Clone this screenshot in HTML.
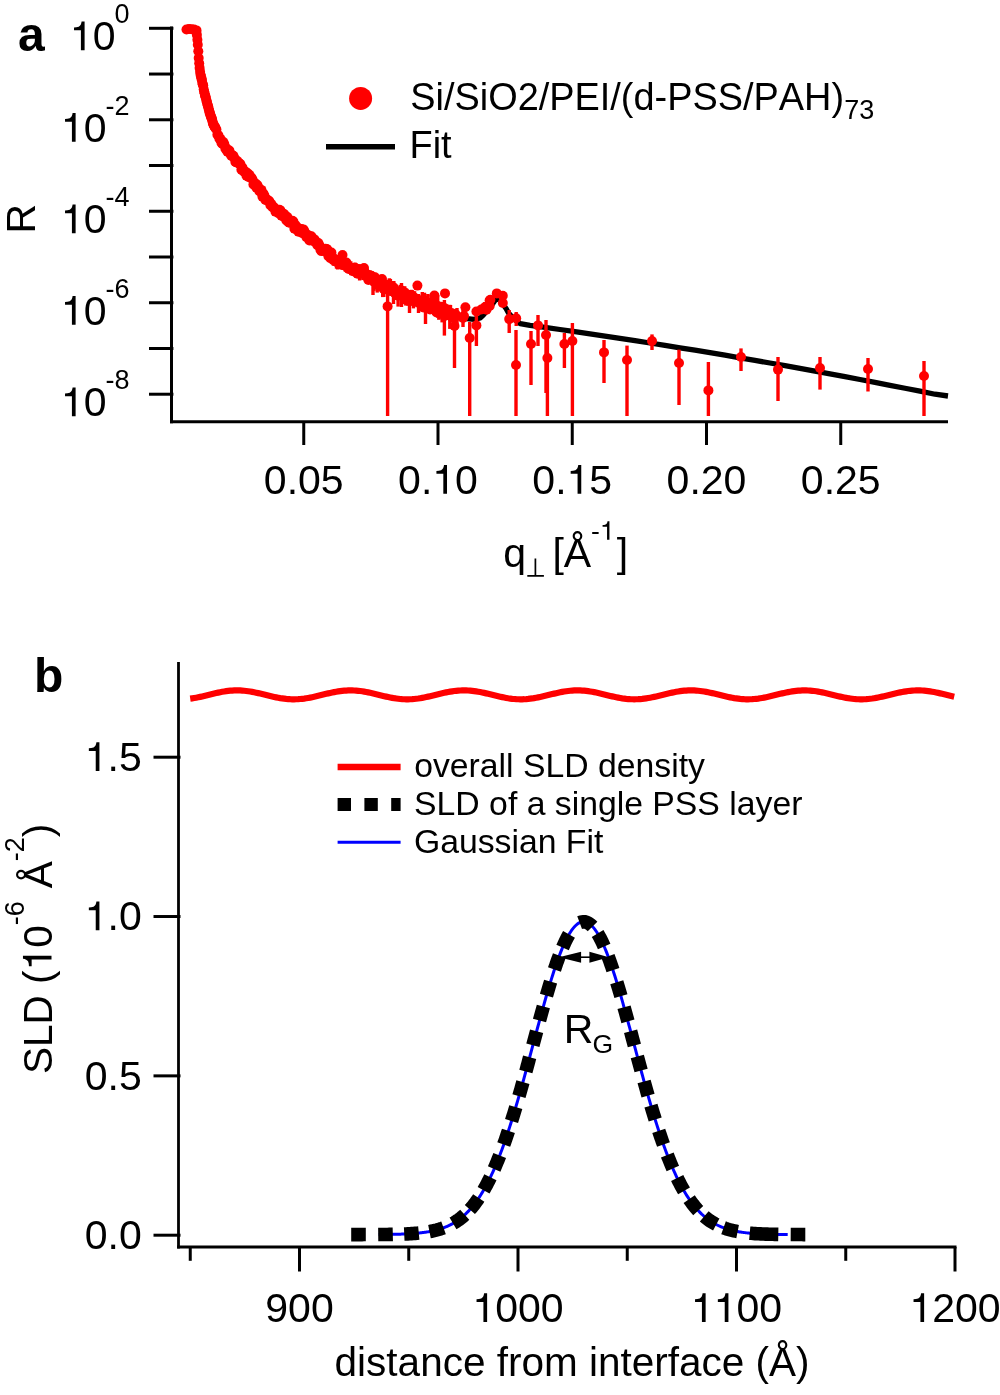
<!DOCTYPE html>
<html><head><meta charset="utf-8"><style>
html,body{margin:0;padding:0;background:#fff;}
svg{display:block;will-change:transform;}
text{font-family:"Liberation Sans",sans-serif;fill:#000;font-kerning:none;}
</style></head><body>
<svg width="1000" height="1395" viewBox="0 0 1000 1395">
<rect width="1000" height="1395" fill="#fff"/>
<path d="M186.00,29.50 L192.00,29.20 L196.50,30.50 L197.50,40.00 L198.00,47.00 L198.50,54.00 L199.00,62.00 L200.00,71.00 L201.00,77.00 L203.00,85.00 L205.00,95.00 L207.50,105.00 L210.50,115.00 L213.50,124.00 L217.50,134.00 L222.00,142.00 L226.00,148.00 L230.00,153.00 L235.00,159.50 L240.00,166.00 L245.00,172.50 L250.00,178.00 L255.00,184.00 L260.00,190.00 L268.00,202.00 L274.00,208.00 L280.00,213.00 L286.00,218.50 L292.00,223.50 L298.00,227.00 L305.00,230.00 L314.00,238.50 L322.00,246.00 L330.00,253.00 L337.00,258.50 L346.00,264.40 L362.00,273.50 L383.50,287.00 L398.00,294.50 L411.00,301.00 L424.00,306.00 L436.00,310.50 L452.00,315.00 L467.00,318.60 L474.00,319.30 L480.30,317.90 L483.50,314.80 L490.00,307.50 L495.00,300.50 L497.00,298.80 L499.50,299.80 L502.50,303.50 L506.20,308.80 L508.50,313.00 L514.00,319.00 L520.20,323.60 L530.00,325.40 L545.00,327.38 L560.00,329.50 L575.00,331.66 L590.00,333.86 L605.00,336.09 L620.00,338.36 L635.00,340.66 L650.00,343.00 L665.00,345.37 L680.00,347.78 L695.00,350.23 L710.00,352.71 L725.00,355.23 L740.00,357.78 L755.00,360.37 L770.00,363.00 L785.00,365.66 L800.00,368.35 L815.00,371.09 L830.00,373.86 L845.00,376.66 L860.00,379.50 L875.00,382.38 L890.00,385.29 L905.00,388.24 L920.00,391.22 L935.00,394.24 L948.00,396.00" fill="none" stroke="#000" stroke-width="5.3" stroke-linejoin="round"/>
<g stroke="#ff0000" stroke-width="3.4"><line x1="332.4" y1="251.7" x2="332.4" y2="262.7"/><line x1="333.4" y1="255.4" x2="333.4" y2="265.8"/><line x1="336.5" y1="256.5" x2="336.5" y2="268.7"/><line x1="337.6" y1="256.3" x2="337.6" y2="269.5"/><line x1="340.9" y1="256.8" x2="340.9" y2="269.1"/><line x1="344.2" y1="257.6" x2="344.2" y2="269.8"/><line x1="345.3" y1="260.5" x2="345.3" y2="271.7"/><line x1="348.6" y1="266.1" x2="348.6" y2="271.8"/><line x1="349.7" y1="264.1" x2="349.7" y2="272.2"/><line x1="350.8" y1="261.3" x2="350.8" y2="275.2"/><line x1="351.9" y1="264.0" x2="351.9" y2="274.6"/><line x1="355.2" y1="262.7" x2="355.2" y2="274.2"/><line x1="357.4" y1="270.1" x2="357.4" y2="277.8"/><line x1="358.5" y1="264.4" x2="358.5" y2="274.9"/><line x1="359.6" y1="264.6" x2="359.6" y2="280.5"/><line x1="360.7" y1="268.6" x2="360.7" y2="275.7"/><line x1="362.9" y1="267.0" x2="362.9" y2="280.1"/><line x1="364.0" y1="268.1" x2="364.0" y2="275.1"/><line x1="365.1" y1="269.3" x2="365.1" y2="276.4"/><line x1="369.5" y1="270.9" x2="369.5" y2="278.5"/><line x1="371.7" y1="271.1" x2="371.7" y2="281.8"/><line x1="373.9" y1="274.5" x2="373.9" y2="290.9"/><line x1="376.1" y1="277.2" x2="376.1" y2="289.2"/><line x1="377.2" y1="278.6" x2="377.2" y2="292.6"/><line x1="382.7" y1="278.4" x2="382.7" y2="297.1"/><line x1="383.8" y1="281.6" x2="383.8" y2="297.0"/><line x1="386.0" y1="279.9" x2="386.0" y2="292.2"/><line x1="387.1" y1="285.9" x2="387.1" y2="293.9"/><line x1="389.3" y1="278.3" x2="389.3" y2="293.6"/><line x1="390.4" y1="278.9" x2="390.4" y2="295.7"/><line x1="393.7" y1="281.0" x2="393.7" y2="294.1"/><line x1="397.0" y1="286.8" x2="397.0" y2="299.7"/><line x1="398.1" y1="287.2" x2="398.1" y2="306.6"/><line x1="400.3" y1="284.8" x2="400.3" y2="298.9"/><line x1="402.5" y1="286.4" x2="402.5" y2="304.2"/><line x1="404.7" y1="286.2" x2="404.7" y2="300.3"/><line x1="405.8" y1="292.8" x2="405.8" y2="305.6"/><line x1="408.0" y1="294.5" x2="408.0" y2="305.8"/><line x1="411.3" y1="289.8" x2="411.3" y2="301.2"/><line x1="412.4" y1="290.2" x2="412.4" y2="305.0"/><line x1="413.5" y1="294.4" x2="413.5" y2="308.4"/><line x1="414.6" y1="291.2" x2="414.6" y2="304.7"/><line x1="415.7" y1="295.0" x2="415.7" y2="304.7"/><line x1="422.3" y1="292.0" x2="422.3" y2="311.7"/><line x1="424.5" y1="292.7" x2="424.5" y2="310.2"/><line x1="427.8" y1="294.0" x2="427.8" y2="310.4"/><line x1="431.1" y1="294.6" x2="431.1" y2="313.9"/><line x1="432.2" y1="303.8" x2="432.2" y2="312.9"/><line x1="435.5" y1="300.0" x2="435.5" y2="312.6"/><line x1="437.7" y1="295.3" x2="437.7" y2="317.7"/><line x1="438.8" y1="304.1" x2="438.8" y2="319.8"/><line x1="442.1" y1="305.9" x2="442.1" y2="322.4"/><line x1="443.2" y1="305.0" x2="443.2" y2="316.6"/><line x1="449.8" y1="304.8" x2="449.8" y2="328.9"/><line x1="373.0" y1="272.0" x2="373.0" y2="295.0"/><line x1="393.5" y1="281.0" x2="393.5" y2="304.0"/><line x1="401.5" y1="283.0" x2="401.5" y2="307.0"/><line x1="409.5" y1="290.0" x2="409.5" y2="313.0"/><line x1="418.5" y1="294.0" x2="418.5" y2="313.0"/><line x1="425.5" y1="296.0" x2="425.5" y2="324.0"/><line x1="434.0" y1="300.0" x2="434.0" y2="315.0"/><line x1="450.5" y1="305.0" x2="450.5" y2="322.0"/><line x1="457.0" y1="308.0" x2="457.0" y2="325.0"/><line x1="463.0" y1="310.0" x2="463.0" y2="327.0"/><line x1="387.6" y1="292.0" x2="387.6" y2="416.0"/><line x1="444.4" y1="300.0" x2="444.4" y2="335.6"/><line x1="454.5" y1="310.0" x2="454.5" y2="368.0"/><line x1="469.7" y1="322.0" x2="469.7" y2="416.0"/><line x1="476.4" y1="310.0" x2="476.4" y2="346.0"/><line x1="484.8" y1="302.0" x2="484.8" y2="312.0"/><line x1="509.2" y1="310.0" x2="509.2" y2="333.0"/><line x1="516.2" y1="312.0" x2="516.2" y2="326.0"/><line x1="516.0" y1="330.0" x2="516.0" y2="416.0"/><line x1="531.0" y1="331.0" x2="531.0" y2="385.0"/><line x1="538.0" y1="315.0" x2="538.0" y2="346.0"/><line x1="546.0" y1="320.0" x2="546.0" y2="393.0"/><line x1="547.4" y1="335.0" x2="547.4" y2="416.0"/><line x1="564.4" y1="333.0" x2="564.4" y2="368.0"/><line x1="572.4" y1="323.0" x2="572.4" y2="416.0"/><line x1="604.0" y1="340.0" x2="604.0" y2="383.0"/><line x1="627.0" y1="345.6" x2="627.0" y2="416.0"/><line x1="652.0" y1="334.4" x2="652.0" y2="350.0"/><line x1="679.0" y1="349.6" x2="679.0" y2="405.0"/><line x1="708.4" y1="362.0" x2="708.4" y2="416.0"/><line x1="741.0" y1="348.4" x2="741.0" y2="371.0"/><line x1="778.0" y1="357.0" x2="778.0" y2="401.0"/><line x1="820.0" y1="357.0" x2="820.0" y2="389.6"/><line x1="868.0" y1="358.0" x2="868.0" y2="391.5"/><line x1="924.0" y1="361.0" x2="924.0" y2="416.0"/></g>
<g fill="#ff0000"><circle cx="186.5" cy="29.5" r="5"/><circle cx="189.0" cy="29.0" r="5"/><circle cx="191.5" cy="29.2" r="5"/><circle cx="194.0" cy="29.5" r="5"/><circle cx="196.5" cy="30.4" r="5"/><circle cx="196.9" cy="34.9" r="5"/><circle cx="197.4" cy="39.7" r="5"/><circle cx="197.8" cy="44.8" r="5"/><circle cx="198.3" cy="51.2" r="5"/><circle cx="198.7" cy="58.1" r="5"/><circle cx="199.2" cy="63.3" r="5"/><circle cx="199.6" cy="67.9" r="5"/><circle cx="200.1" cy="71.8" r="5"/><circle cx="200.5" cy="74.8" r="5"/><circle cx="201.0" cy="76.4" r="5"/><circle cx="201.4" cy="78.5" r="5"/><circle cx="201.9" cy="79.9" r="5"/><circle cx="202.3" cy="82.9" r="5"/><circle cx="202.8" cy="84.5" r="5"/><circle cx="203.2" cy="85.5" r="5"/><circle cx="203.7" cy="89.3" r="5"/><circle cx="204.1" cy="91.5" r="5"/><circle cx="204.6" cy="93.2" r="5"/><circle cx="205.0" cy="95.4" r="5"/><circle cx="205.5" cy="96.5" r="5"/><circle cx="205.9" cy="98.0" r="5"/><circle cx="206.4" cy="100.6" r="5"/><circle cx="206.8" cy="101.7" r="5"/><circle cx="207.3" cy="103.7" r="5"/><circle cx="207.7" cy="105.4" r="5"/><circle cx="208.2" cy="106.6" r="5"/><circle cx="208.6" cy="108.8" r="5"/><circle cx="209.1" cy="110.2" r="5"/><circle cx="209.5" cy="112.4" r="5"/><circle cx="210.0" cy="113.4" r="5"/><circle cx="210.4" cy="115.1" r="5"/><circle cx="210.9" cy="116.2" r="5"/><circle cx="211.3" cy="117.8" r="5"/><circle cx="211.8" cy="118.8" r="5"/><circle cx="212.2" cy="119.9" r="5"/><circle cx="212.7" cy="122.4" r="5"/><circle cx="213.1" cy="123.7" r="5"/><circle cx="213.6" cy="124.8" r="5"/><circle cx="214.0" cy="125.7" r="5"/><circle cx="214.5" cy="126.2" r="5"/><circle cx="214.9" cy="127.2" r="5"/><circle cx="215.4" cy="127.9" r="5"/><circle cx="216.4" cy="129.5" r="5"/><circle cx="217.4" cy="134.8" r="5"/><circle cx="218.4" cy="135.2" r="5"/><circle cx="219.4" cy="138.8" r="5"/><circle cx="220.4" cy="138.7" r="5"/><circle cx="221.4" cy="142.8" r="5"/><circle cx="222.4" cy="144.0" r="5"/><circle cx="223.4" cy="142.1" r="5"/><circle cx="224.4" cy="144.4" r="5"/><circle cx="225.4" cy="148.7" r="5"/><circle cx="226.4" cy="148.4" r="5"/><circle cx="227.4" cy="151.7" r="5"/><circle cx="228.4" cy="150.6" r="5"/><circle cx="229.4" cy="150.5" r="5"/><circle cx="230.4" cy="154.0" r="5"/><circle cx="231.4" cy="155.9" r="5"/><circle cx="232.4" cy="155.2" r="5"/><circle cx="233.4" cy="155.8" r="5"/><circle cx="234.4" cy="158.1" r="5"/><circle cx="235.4" cy="161.9" r="5"/><circle cx="236.4" cy="162.4" r="5"/><circle cx="237.4" cy="161.1" r="5"/><circle cx="238.4" cy="162.9" r="5"/><circle cx="239.4" cy="163.6" r="5"/><circle cx="240.4" cy="164.0" r="5"/><circle cx="241.4" cy="169.7" r="5"/><circle cx="242.4" cy="167.5" r="5"/><circle cx="243.4" cy="171.1" r="5"/><circle cx="244.4" cy="171.9" r="5"/><circle cx="245.4" cy="171.6" r="5"/><circle cx="246.4" cy="175.6" r="5"/><circle cx="247.4" cy="173.0" r="5"/><circle cx="248.4" cy="176.9" r="5"/><circle cx="249.4" cy="174.7" r="5"/><circle cx="250.4" cy="177.5" r="5"/><circle cx="251.4" cy="177.6" r="5"/><circle cx="252.4" cy="179.2" r="5"/><circle cx="253.4" cy="184.5" r="5"/><circle cx="254.4" cy="184.8" r="5"/><circle cx="255.4" cy="183.2" r="5"/><circle cx="256.4" cy="187.8" r="5"/><circle cx="257.4" cy="185.1" r="5"/><circle cx="258.4" cy="187.4" r="5"/><circle cx="259.4" cy="191.3" r="5"/><circle cx="260.4" cy="191.4" r="5"/><circle cx="261.4" cy="189.9" r="5"/><circle cx="262.4" cy="196.6" r="5"/><circle cx="263.4" cy="193.6" r="5"/><circle cx="264.4" cy="195.5" r="5"/><circle cx="265.4" cy="200.0" r="5"/><circle cx="266.4" cy="199.0" r="5"/><circle cx="267.4" cy="200.4" r="5"/><circle cx="268.4" cy="200.4" r="5"/><circle cx="269.4" cy="201.4" r="5"/><circle cx="270.4" cy="205.2" r="5"/><circle cx="271.4" cy="204.1" r="5"/><circle cx="272.4" cy="207.1" r="5"/><circle cx="273.4" cy="206.7" r="5"/><circle cx="274.4" cy="208.0" r="5"/><circle cx="275.4" cy="211.6" r="5"/><circle cx="276.4" cy="209.5" r="5"/><circle cx="277.4" cy="210.7" r="5"/><circle cx="278.4" cy="213.1" r="5"/><circle cx="279.4" cy="209.8" r="5"/><circle cx="280.4" cy="210.4" r="5"/><circle cx="281.4" cy="215.7" r="5"/><circle cx="282.4" cy="216.0" r="5"/><circle cx="283.4" cy="213.7" r="5"/><circle cx="284.4" cy="214.2" r="5"/><circle cx="285.4" cy="218.3" r="5"/><circle cx="286.4" cy="220.4" r="5"/><circle cx="287.4" cy="217.0" r="5"/><circle cx="288.4" cy="222.3" r="5"/><circle cx="289.4" cy="222.8" r="5"/><circle cx="290.4" cy="222.2" r="5"/><circle cx="291.4" cy="221.9" r="5"/><circle cx="292.4" cy="220.8" r="5"/><circle cx="293.4" cy="221.5" r="5"/><circle cx="294.4" cy="228.7" r="5"/><circle cx="295.4" cy="225.0" r="5"/><circle cx="296.4" cy="229.1" r="5"/><circle cx="297.4" cy="227.2" r="5"/><circle cx="298.4" cy="231.8" r="5"/><circle cx="299.4" cy="230.8" r="5"/><circle cx="300.4" cy="229.3" r="5"/><circle cx="301.4" cy="229.1" r="5"/><circle cx="302.4" cy="233.2" r="5"/><circle cx="303.4" cy="229.4" r="5"/><circle cx="304.4" cy="231.1" r="5"/><circle cx="305.4" cy="234.2" r="5"/><circle cx="306.4" cy="237.1" r="5"/><circle cx="307.4" cy="236.5" r="5"/><circle cx="308.4" cy="235.2" r="5"/><circle cx="309.4" cy="240.4" r="5"/><circle cx="310.4" cy="236.6" r="5"/><circle cx="311.4" cy="236.3" r="5"/><circle cx="312.4" cy="239.0" r="5"/><circle cx="313.4" cy="241.1" r="5"/><circle cx="314.4" cy="239.4" r="5"/><circle cx="315.4" cy="241.0" r="5"/><circle cx="316.4" cy="243.1" r="5"/><circle cx="317.4" cy="245.2" r="5"/><circle cx="318.4" cy="243.1" r="5"/><circle cx="319.4" cy="245.4" r="5"/><circle cx="320.4" cy="249.7" r="5"/><circle cx="321.4" cy="251.1" r="5"/><circle cx="322.4" cy="249.8" r="5"/><circle cx="323.4" cy="250.8" r="5"/><circle cx="324.4" cy="250.9" r="5"/><circle cx="325.4" cy="248.7" r="5"/><circle cx="326.4" cy="248.9" r="5"/><circle cx="327.4" cy="249.5" r="5"/><circle cx="328.4" cy="256.2" r="5"/><circle cx="329.4" cy="255.6" r="5"/><circle cx="330.4" cy="258.1" r="5"/><circle cx="331.4" cy="252.5" r="5"/><circle cx="332.4" cy="257.1" r="5"/><circle cx="333.4" cy="260.1" r="5"/><circle cx="334.4" cy="260.1" r="5"/><circle cx="335.4" cy="259.6" r="5"/><circle cx="336.5" cy="261.9" r="5"/><circle cx="337.6" cy="262.2" r="5"/><circle cx="338.7" cy="260.6" r="5"/><circle cx="339.8" cy="259.8" r="5"/><circle cx="340.9" cy="262.2" r="5"/><circle cx="342.0" cy="264.9" r="5"/><circle cx="343.1" cy="261.8" r="5"/><circle cx="344.2" cy="263.9" r="5"/><circle cx="345.3" cy="265.9" r="5"/><circle cx="346.4" cy="262.6" r="5"/><circle cx="347.5" cy="265.2" r="5"/><circle cx="348.6" cy="269.0" r="5"/><circle cx="349.7" cy="267.7" r="5"/><circle cx="350.8" cy="268.1" r="5"/><circle cx="351.9" cy="268.8" r="5"/><circle cx="353.0" cy="271.2" r="5"/><circle cx="354.1" cy="267.8" r="5"/><circle cx="355.2" cy="267.8" r="5"/><circle cx="356.3" cy="272.5" r="5"/><circle cx="357.4" cy="273.8" r="5"/><circle cx="358.5" cy="269.3" r="5"/><circle cx="359.6" cy="271.5" r="5"/><circle cx="360.7" cy="271.8" r="5"/><circle cx="361.8" cy="269.2" r="5"/><circle cx="362.9" cy="273.9" r="5"/><circle cx="364.0" cy="271.2" r="5"/><circle cx="365.1" cy="272.6" r="5"/><circle cx="366.2" cy="274.9" r="5"/><circle cx="367.3" cy="277.1" r="5"/><circle cx="368.4" cy="280.0" r="5"/><circle cx="369.5" cy="274.9" r="5"/><circle cx="370.6" cy="277.6" r="5"/><circle cx="371.7" cy="276.0" r="5"/><circle cx="372.8" cy="279.3" r="5"/><circle cx="373.9" cy="281.7" r="5"/><circle cx="375.0" cy="277.3" r="5"/><circle cx="376.1" cy="282.7" r="5"/><circle cx="377.2" cy="284.8" r="5"/><circle cx="378.3" cy="284.6" r="5"/><circle cx="379.4" cy="282.7" r="5"/><circle cx="380.5" cy="281.4" r="5"/><circle cx="381.6" cy="286.7" r="5"/><circle cx="382.7" cy="286.6" r="5"/><circle cx="383.8" cy="289.2" r="5"/><circle cx="384.9" cy="289.3" r="5"/><circle cx="386.0" cy="285.7" r="5"/><circle cx="387.1" cy="289.5" r="5"/><circle cx="388.2" cy="284.8" r="5"/><circle cx="389.3" cy="286.1" r="5"/><circle cx="390.4" cy="286.4" r="5"/><circle cx="391.5" cy="291.0" r="5"/><circle cx="392.6" cy="290.1" r="5"/><circle cx="393.7" cy="287.5" r="5"/><circle cx="394.8" cy="292.9" r="5"/><circle cx="395.9" cy="291.8" r="5"/><circle cx="397.0" cy="292.6" r="5"/><circle cx="398.1" cy="295.7" r="5"/><circle cx="399.2" cy="293.3" r="5"/><circle cx="400.3" cy="291.4" r="5"/><circle cx="401.4" cy="290.6" r="5"/><circle cx="402.5" cy="294.8" r="5"/><circle cx="403.6" cy="295.1" r="5"/><circle cx="404.7" cy="292.4" r="5"/><circle cx="405.8" cy="299.4" r="5"/><circle cx="406.9" cy="296.2" r="5"/><circle cx="408.0" cy="300.2" r="5"/><circle cx="409.1" cy="298.6" r="5"/><circle cx="410.2" cy="295.4" r="5"/><circle cx="411.3" cy="295.1" r="5"/><circle cx="412.4" cy="297.8" r="5"/><circle cx="413.5" cy="301.4" r="5"/><circle cx="414.6" cy="297.8" r="5"/><circle cx="415.7" cy="299.9" r="5"/><circle cx="416.8" cy="302.0" r="5"/><circle cx="417.9" cy="301.7" r="5"/><circle cx="419.0" cy="302.8" r="5"/><circle cx="420.1" cy="300.3" r="5"/><circle cx="421.2" cy="305.2" r="5"/><circle cx="422.3" cy="301.9" r="5"/><circle cx="423.4" cy="307.5" r="5"/><circle cx="424.5" cy="301.4" r="5"/><circle cx="425.6" cy="301.5" r="5"/><circle cx="426.7" cy="304.4" r="5"/><circle cx="427.8" cy="302.6" r="5"/><circle cx="428.9" cy="303.6" r="5"/><circle cx="430.0" cy="309.4" r="5"/><circle cx="431.1" cy="303.7" r="5"/><circle cx="432.2" cy="308.5" r="5"/><circle cx="433.3" cy="304.0" r="5"/><circle cx="434.4" cy="308.0" r="5"/><circle cx="435.5" cy="305.6" r="5"/><circle cx="436.6" cy="312.5" r="5"/><circle cx="437.7" cy="306.1" r="5"/><circle cx="438.8" cy="311.6" r="5"/><circle cx="439.9" cy="309.4" r="5"/><circle cx="441.0" cy="306.7" r="5"/><circle cx="442.1" cy="313.4" r="5"/><circle cx="443.2" cy="310.5" r="5"/><circle cx="444.3" cy="307.9" r="5"/><circle cx="445.4" cy="314.3" r="5"/><circle cx="446.5" cy="315.2" r="5"/><circle cx="447.6" cy="312.1" r="5"/><circle cx="448.7" cy="313.2" r="5"/><circle cx="449.8" cy="315.8" r="5"/><circle cx="450.9" cy="315.8" r="5"/><circle cx="452.0" cy="313.3" r="5"/><circle cx="453.1" cy="317.2" r="5"/><circle cx="454.2" cy="316.6" r="5"/><circle cx="455.3" cy="314.1" r="5"/><circle cx="342.5" cy="255.0" r="5"/><circle cx="364.0" cy="268.0" r="5"/><circle cx="382.0" cy="279.0" r="5"/><circle cx="373.0" cy="280.0" r="5"/><circle cx="393.5" cy="292.0" r="5"/><circle cx="401.5" cy="295.0" r="5"/><circle cx="409.5" cy="300.0" r="5"/><circle cx="418.5" cy="302.0" r="5"/><circle cx="425.5" cy="306.0" r="5"/><circle cx="434.0" cy="308.0" r="5"/><circle cx="450.5" cy="313.0" r="5"/><circle cx="457.0" cy="316.0" r="5"/><circle cx="463.0" cy="318.0" r="5"/><circle cx="387.6" cy="306.4" r="5"/><circle cx="417.4" cy="285.6" r="5"/><circle cx="445.0" cy="293.4" r="5"/><circle cx="434.4" cy="295.5" r="5"/><circle cx="444.4" cy="316.0" r="5"/><circle cx="454.5" cy="326.0" r="5"/><circle cx="469.7" cy="338.0" r="5"/><circle cx="465.4" cy="307.2" r="5"/><circle cx="464.0" cy="316.0" r="5"/><circle cx="476.4" cy="325.4" r="5"/><circle cx="476.4" cy="311.5" r="5"/><circle cx="484.8" cy="307.2" r="5"/><circle cx="489.6" cy="300.6" r="5"/><circle cx="481.3" cy="309.5" r="5"/><circle cx="486.5" cy="309.8" r="5"/><circle cx="489.7" cy="306.0" r="5"/><circle cx="490.4" cy="299.7" r="5"/><circle cx="496.8" cy="293.4" r="5"/><circle cx="502.8" cy="295.8" r="5"/><circle cx="502.8" cy="303.0" r="5"/><circle cx="509.2" cy="319.1" r="5"/><circle cx="516.2" cy="318.2" r="5"/><circle cx="516.0" cy="365.0" r="5"/><circle cx="531.0" cy="344.0" r="5"/><circle cx="538.0" cy="325.4" r="5"/><circle cx="546.0" cy="335.0" r="5"/><circle cx="547.4" cy="358.0" r="5"/><circle cx="564.4" cy="344.0" r="5"/><circle cx="572.4" cy="341.0" r="5"/><circle cx="604.0" cy="352.4" r="5"/><circle cx="627.0" cy="360.0" r="5"/><circle cx="652.0" cy="341.0" r="5"/><circle cx="679.0" cy="363.0" r="5"/><circle cx="708.4" cy="390.4" r="5"/><circle cx="741.0" cy="357.0" r="5"/><circle cx="778.0" cy="369.6" r="5"/><circle cx="820.0" cy="368.0" r="5"/><circle cx="868.0" cy="369.0" r="5"/><circle cx="924.0" cy="376.0" r="5"/></g>
<line x1="171.5" y1="26.6" x2="171.5" y2="423.3" stroke="#000" stroke-width="3"/>
<line x1="170.0" y1="421.8" x2="948" y2="421.8" stroke="#000" stroke-width="3"/>
<line x1="149" y1="28.30" x2="173.4" y2="28.30" stroke="#000" stroke-width="3"/>
<line x1="149" y1="74.04" x2="173.4" y2="74.04" stroke="#000" stroke-width="3"/>
<line x1="149" y1="119.78" x2="173.4" y2="119.78" stroke="#000" stroke-width="3"/>
<line x1="149" y1="165.52" x2="173.4" y2="165.52" stroke="#000" stroke-width="3"/>
<line x1="149" y1="211.26" x2="173.4" y2="211.26" stroke="#000" stroke-width="3"/>
<line x1="149" y1="257.00" x2="173.4" y2="257.00" stroke="#000" stroke-width="3"/>
<line x1="149" y1="302.74" x2="173.4" y2="302.74" stroke="#000" stroke-width="3"/>
<line x1="149" y1="348.48" x2="173.4" y2="348.48" stroke="#000" stroke-width="3"/>
<line x1="149" y1="394.22" x2="173.4" y2="394.22" stroke="#000" stroke-width="3"/>
<line x1="303.75" y1="421.8" x2="303.75" y2="445" stroke="#000" stroke-width="3"/>
<text x="303.75" y="493.70" font-size="41" text-anchor="middle">0.05</text>
<line x1="438.00" y1="421.8" x2="438.00" y2="445" stroke="#000" stroke-width="3"/>
<text x="438.00" y="493.70" font-size="41" text-anchor="middle">0. 0</text>
<path transform="translate(432.29,493.70) scale(41,-41)" d="M0.269,0 L0.359,0 L0.359,0.703 L0.286,0.703 C0.276,0.640 0.262,0.600 0.215,0.575 C0.180,0.560 0.140,0.556 0.101,0.556 L0.101,0.489 L0.269,0.489 Z"/>
<line x1="572.25" y1="421.8" x2="572.25" y2="445" stroke="#000" stroke-width="3"/>
<text x="572.25" y="493.70" font-size="41" text-anchor="middle">0. 5</text>
<path transform="translate(566.54,493.70) scale(41,-41)" d="M0.269,0 L0.359,0 L0.359,0.703 L0.286,0.703 C0.276,0.640 0.262,0.600 0.215,0.575 C0.180,0.560 0.140,0.556 0.101,0.556 L0.101,0.489 L0.269,0.489 Z"/>
<line x1="706.50" y1="421.8" x2="706.50" y2="445" stroke="#000" stroke-width="3"/>
<text x="706.50" y="493.70" font-size="41" text-anchor="middle">0.20</text>
<line x1="840.75" y1="421.8" x2="840.75" y2="445" stroke="#000" stroke-width="3"/>
<text x="840.75" y="493.70" font-size="41" text-anchor="middle">0.25</text>
<text x="129.50" y="23.30" font-size="27" text-anchor="end">0</text>
<text x="115.48" y="50.30" font-size="41" text-anchor="end"> 0</text>
<path transform="translate(69.88,50.30) scale(41,-41)" d="M0.269,0 L0.359,0 L0.359,0.703 L0.286,0.703 C0.276,0.640 0.262,0.600 0.215,0.575 C0.180,0.560 0.140,0.556 0.101,0.556 L0.101,0.489 L0.269,0.489 Z"/>
<text x="129.50" y="114.78" font-size="27" text-anchor="end">-2</text>
<text x="106.49" y="141.78" font-size="41" text-anchor="end"> 0</text>
<path transform="translate(60.89,141.78) scale(41,-41)" d="M0.269,0 L0.359,0 L0.359,0.703 L0.286,0.703 C0.276,0.640 0.262,0.600 0.215,0.575 C0.180,0.560 0.140,0.556 0.101,0.556 L0.101,0.489 L0.269,0.489 Z"/>
<text x="129.50" y="206.26" font-size="27" text-anchor="end">-4</text>
<text x="106.49" y="233.26" font-size="41" text-anchor="end"> 0</text>
<path transform="translate(60.89,233.26) scale(41,-41)" d="M0.269,0 L0.359,0 L0.359,0.703 L0.286,0.703 C0.276,0.640 0.262,0.600 0.215,0.575 C0.180,0.560 0.140,0.556 0.101,0.556 L0.101,0.489 L0.269,0.489 Z"/>
<text x="129.50" y="297.74" font-size="27" text-anchor="end">-6</text>
<text x="106.49" y="324.74" font-size="41" text-anchor="end"> 0</text>
<path transform="translate(60.89,324.74) scale(41,-41)" d="M0.269,0 L0.359,0 L0.359,0.703 L0.286,0.703 C0.276,0.640 0.262,0.600 0.215,0.575 C0.180,0.560 0.140,0.556 0.101,0.556 L0.101,0.489 L0.269,0.489 Z"/>
<text x="129.50" y="389.22" font-size="27" text-anchor="end">-8</text>
<text x="106.49" y="416.22" font-size="41" text-anchor="end"> 0</text>
<path transform="translate(60.89,416.22) scale(41,-41)" d="M0.269,0 L0.359,0 L0.359,0.703 L0.286,0.703 C0.276,0.640 0.262,0.600 0.215,0.575 C0.180,0.560 0.140,0.556 0.101,0.556 L0.101,0.489 L0.269,0.489 Z"/>
<text x="18.10" y="51.30" font-size="48" font-weight="bold">a</text>
<text x="0" y="0" font-size="41" transform="translate(34.8,233.4) rotate(-90)">R</text>
<text x="503.20" y="566.70" font-size="41">q</text>
<path d="M535.4,558.4 V575.9 M527.3,575.9 H543.9" stroke="#000" stroke-width="1.7" fill="none"/>
<text x="552.40" y="566.70" font-size="41">[Å</text>
<text x="591.10" y="539.80" font-size="26.5">- </text>
<path transform="translate(599.92,539.80) scale(26.5,-26.5)" d="M0.269,0 L0.359,0 L0.359,0.703 L0.286,0.703 C0.276,0.640 0.262,0.600 0.215,0.575 C0.180,0.560 0.140,0.556 0.101,0.556 L0.101,0.489 L0.269,0.489 Z"/>
<text x="616.70" y="566.70" font-size="41">]</text>
<circle cx="360.6" cy="98.4" r="11.5" fill="#ff0000"/>
<line x1="326" y1="146.8" x2="395" y2="146.8" stroke="#000" stroke-width="5.5"/>
<text x="410.28" y="109.60" font-size="37.9">Si/SiO2/PEI/(d-PSS/PAH)</text>
<text x="844.22" y="119.00" font-size="27">73</text>
<text x="409.49" y="158.00" font-size="37.9">Fit</text>
<path d="M190.20,698.64 L192.20,698.36 L194.20,698.04 L196.20,697.68 L198.20,697.28 L200.20,696.85 L202.20,696.40 L204.20,695.93 L206.20,695.45 L208.20,694.95 L210.20,694.46 L212.20,693.98 L214.20,693.50 L216.20,693.04 L218.20,692.60 L220.20,692.19 L222.20,691.81 L224.20,691.47 L226.20,691.17 L228.20,690.92 L230.20,690.71 L232.20,690.56 L234.20,690.45 L236.20,690.40 L238.20,690.41 L240.20,690.47 L242.20,690.58 L244.20,690.75 L246.20,690.96 L248.20,691.23 L250.20,691.54 L252.20,691.88 L254.20,692.27 L256.20,692.69 L258.20,693.13 L260.20,693.59 L262.20,694.07 L264.20,694.56 L266.20,695.05 L268.20,695.54 L270.20,696.02 L272.20,696.49 L274.20,696.94 L276.20,697.36 L278.20,697.75 L280.20,698.11 L282.20,698.42 L284.20,698.69 L286.20,698.92 L288.20,699.09 L290.20,699.21 L292.20,699.28 L294.20,699.30 L296.20,699.26 L298.20,699.17 L300.20,699.02 L302.20,698.82 L304.20,698.58 L306.20,698.28 L308.20,697.95 L310.20,697.58 L312.20,697.17 L314.20,696.74 L316.20,696.28 L318.20,695.81 L320.20,695.32 L322.20,694.83 L324.20,694.34 L326.20,693.85 L328.20,693.38 L330.20,692.93 L332.20,692.49 L334.20,692.09 L336.20,691.72 L338.20,691.39 L340.20,691.10 L342.20,690.86 L344.20,690.67 L346.20,690.53 L348.20,690.44 L350.20,690.40 L352.20,690.42 L354.20,690.49 L356.20,690.62 L358.20,690.80 L360.20,691.03 L362.20,691.30 L364.20,691.62 L366.20,691.98 L368.20,692.37 L370.20,692.79 L372.20,693.24 L374.20,693.71 L376.20,694.19 L378.20,694.68 L380.20,695.18 L382.20,695.66 L384.20,696.14 L386.20,696.61 L388.20,697.05 L390.20,697.46 L392.20,697.84 L394.20,698.19 L396.20,698.49 L398.20,698.75 L400.20,698.97 L402.20,699.13 L404.20,699.24 L406.20,699.29 L408.20,699.29 L410.20,699.24 L412.20,699.13 L414.20,698.97 L416.20,698.76 L418.20,698.51 L420.20,698.20 L422.20,697.86 L424.20,697.48 L426.20,697.07 L428.20,696.63 L430.20,696.17 L432.20,695.69 L434.20,695.20 L436.20,694.71 L438.20,694.22 L440.20,693.73 L442.20,693.27 L444.20,692.82 L446.20,692.39 L448.20,692.00 L450.20,691.64 L452.20,691.32 L454.20,691.04 L456.20,690.81 L458.20,690.63 L460.20,690.50 L462.20,690.42 L464.20,690.40 L466.20,690.43 L468.20,690.52 L470.20,690.66 L472.20,690.85 L474.20,691.09 L476.20,691.38 L478.20,691.71 L480.20,692.07 L482.20,692.47 L484.20,692.90 L486.20,693.36 L488.20,693.83 L490.20,694.32 L492.20,694.81 L494.20,695.30 L496.20,695.79 L498.20,696.26 L500.20,696.72 L502.20,697.15 L504.20,697.56 L506.20,697.93 L508.20,698.27 L510.20,698.56 L512.20,698.81 L514.20,699.01 L516.20,699.16 L518.20,699.26 L520.20,699.30 L522.20,699.29 L524.20,699.22 L526.20,699.10 L528.20,698.93 L530.20,698.70 L532.20,698.44 L534.20,698.12 L536.20,697.77 L538.20,697.38 L540.20,696.96 L542.20,696.51 L544.20,696.05 L546.20,695.57 L548.20,695.08 L550.20,694.59 L552.20,694.10 L554.20,693.62 L556.20,693.15 L558.20,692.71 L560.20,692.29 L562.20,691.90 L564.20,691.55 L566.20,691.24 L568.20,690.98 L570.20,690.76 L572.20,690.59 L574.20,690.47 L576.20,690.41 L578.20,690.40 L580.20,690.45 L582.20,690.55 L584.20,690.70 L586.20,690.91 L588.20,691.16 L590.20,691.46 L592.20,691.79 L594.20,692.17 L596.20,692.58 L598.20,693.02 L600.20,693.47 L602.20,693.95 L604.20,694.44 L606.20,694.93 L608.20,695.42 L610.20,695.91 L612.20,696.38 L614.20,696.83 L616.20,697.26 L618.20,697.66 L620.20,698.02 L622.20,698.35 L624.20,698.63 L626.20,698.87 L628.20,699.05 L630.20,699.19 L632.20,699.27 L634.20,699.30 L636.20,699.27 L638.20,699.19 L640.20,699.06 L642.20,698.88 L644.20,698.64 L646.20,698.36 L648.20,698.04 L650.20,697.68 L652.20,697.28 L654.20,696.85 L656.20,696.40 L658.20,695.93 L660.20,695.45 L662.20,694.95 L664.20,694.46 L666.20,693.98 L668.20,693.50 L670.20,693.04 L672.20,692.60 L674.20,692.19 L676.20,691.81 L678.20,691.47 L680.20,691.17 L682.20,690.92 L684.20,690.71 L686.20,690.56 L688.20,690.45 L690.20,690.40 L692.20,690.41 L694.20,690.47 L696.20,690.58 L698.20,690.75 L700.20,690.96 L702.20,691.23 L704.20,691.54 L706.20,691.88 L708.20,692.27 L710.20,692.69 L712.20,693.13 L714.20,693.59 L716.20,694.07 L718.20,694.56 L720.20,695.05 L722.20,695.54 L724.20,696.02 L726.20,696.49 L728.20,696.94 L730.20,697.36 L732.20,697.75 L734.20,698.11 L736.20,698.42 L738.20,698.69 L740.20,698.92 L742.20,699.09 L744.20,699.21 L746.20,699.28 L748.20,699.30 L750.20,699.26 L752.20,699.17 L754.20,699.02 L756.20,698.82 L758.20,698.58 L760.20,698.28 L762.20,697.95 L764.20,697.58 L766.20,697.17 L768.20,696.74 L770.20,696.28 L772.20,695.81 L774.20,695.32 L776.20,694.83 L778.20,694.34 L780.20,693.85 L782.20,693.38 L784.20,692.93 L786.20,692.49 L788.20,692.09 L790.20,691.72 L792.20,691.39 L794.20,691.10 L796.20,690.86 L798.20,690.67 L800.20,690.53 L802.20,690.44 L804.20,690.40 L806.20,690.42 L808.20,690.49 L810.20,690.62 L812.20,690.80 L814.20,691.03 L816.20,691.30 L818.20,691.62 L820.20,691.98 L822.20,692.37 L824.20,692.79 L826.20,693.24 L828.20,693.71 L830.20,694.19 L832.20,694.68 L834.20,695.18 L836.20,695.66 L838.20,696.14 L840.20,696.61 L842.20,697.05 L844.20,697.46 L846.20,697.84 L848.20,698.19 L850.20,698.49 L852.20,698.75 L854.20,698.97 L856.20,699.13 L858.20,699.24 L860.20,699.29 L862.20,699.29 L864.20,699.24 L866.20,699.13 L868.20,698.97 L870.20,698.76 L872.20,698.51 L874.20,698.20 L876.20,697.86 L878.20,697.48 L880.20,697.07 L882.20,696.63 L884.20,696.17 L886.20,695.69 L888.20,695.20 L890.20,694.71 L892.20,694.22 L894.20,693.73 L896.20,693.27 L898.20,692.82 L900.20,692.39 L902.20,692.00 L904.20,691.64 L906.20,691.32 L908.20,691.04 L910.20,690.81 L912.20,690.63 L914.20,690.50 L916.20,690.42 L918.20,690.40 L920.20,690.43 L922.20,690.52 L924.20,690.66 L926.20,690.85 L928.20,691.09 L930.20,691.38 L932.20,691.71 L934.20,692.07 L936.20,692.47 L938.20,692.90 L940.20,693.36 L942.20,693.83 L944.20,694.32 L946.20,694.81 L948.20,695.30 L950.20,695.79 L952.20,696.26 L954.20,696.72" fill="none" stroke="#ff0000" stroke-width="6.2"/>
<path d="M378.70,1234.51 L379.70,1234.51 L380.70,1234.50 L381.70,1234.49 L382.70,1234.48 L383.70,1234.47 L384.70,1234.46 L385.70,1234.45 L386.70,1234.44 L387.70,1234.43 L388.70,1234.41 L389.70,1234.40 L390.70,1234.38 L391.70,1234.36 L392.70,1234.35 L393.70,1234.33 L394.70,1234.31 L395.70,1234.28 L396.70,1234.26 L397.70,1234.23 L398.70,1234.21 L399.70,1234.18 L400.70,1234.14 L401.70,1234.11 L402.70,1234.08 L403.70,1234.04 L404.70,1234.00 L405.70,1233.95 L406.70,1233.91 L407.70,1233.86 L408.70,1233.80 L409.70,1233.75 L410.70,1233.69 L411.70,1233.62 L412.70,1233.56 L413.70,1233.49 L414.70,1233.41 L415.70,1233.33 L416.70,1233.24 L417.70,1233.15 L418.70,1233.05 L419.70,1232.95 L420.70,1232.84 L421.70,1232.73 L422.70,1232.61 L423.70,1232.48 L424.70,1232.34 L425.70,1232.20 L426.70,1232.04 L427.70,1231.88 L428.70,1231.71 L429.70,1231.53 L430.70,1231.34 L431.70,1231.14 L432.70,1230.93 L433.70,1230.71 L434.70,1230.48 L435.70,1230.23 L436.70,1229.97 L437.70,1229.70 L438.70,1229.42 L439.70,1229.11 L440.70,1228.80 L441.70,1228.47 L442.70,1228.12 L443.70,1227.75 L444.70,1227.37 L445.70,1226.97 L446.70,1226.55 L447.70,1226.11 L448.70,1225.65 L449.70,1225.16 L450.70,1224.66 L451.70,1224.13 L452.70,1223.58 L453.70,1223.00 L454.70,1222.40 L455.70,1221.78 L456.70,1221.12 L457.70,1220.44 L458.70,1219.73 L459.70,1218.99 L460.70,1218.22 L461.70,1217.42 L462.70,1216.58 L463.70,1215.71 L464.70,1214.81 L465.70,1213.87 L466.70,1212.90 L467.70,1211.89 L468.70,1210.85 L469.70,1209.76 L470.70,1208.64 L471.70,1207.47 L472.70,1206.26 L473.70,1205.02 L474.70,1203.72 L475.70,1202.39 L476.70,1201.01 L477.70,1199.58 L478.70,1198.11 L479.70,1196.59 L480.70,1195.03 L481.70,1193.41 L482.70,1191.75 L483.70,1190.04 L484.70,1188.27 L485.70,1186.46 L486.70,1184.59 L487.70,1182.67 L488.70,1180.70 L489.70,1178.67 L490.70,1176.60 L491.70,1174.47 L492.70,1172.28 L493.70,1170.04 L494.70,1167.75 L495.70,1165.40 L496.70,1162.99 L497.70,1160.54 L498.70,1158.03 L499.70,1155.46 L500.70,1152.84 L501.70,1150.16 L502.70,1147.44 L503.70,1144.66 L504.70,1141.82 L505.70,1138.94 L506.70,1136.00 L507.70,1133.02 L508.70,1129.98 L509.70,1126.90 L510.70,1123.76 L511.70,1120.58 L512.70,1117.36 L513.70,1114.09 L514.70,1110.78 L515.70,1107.43 L516.70,1104.04 L517.70,1100.61 L518.70,1097.14 L519.70,1093.64 L520.70,1090.10 L521.70,1086.54 L522.70,1082.94 L523.70,1079.32 L524.70,1075.68 L525.70,1072.01 L526.70,1068.33 L527.70,1064.62 L528.70,1060.91 L529.70,1057.18 L530.70,1053.44 L531.70,1049.69 L532.70,1045.94 L533.70,1042.19 L534.70,1038.44 L535.70,1034.70 L536.70,1030.96 L537.70,1027.24 L538.70,1023.53 L539.70,1019.84 L540.70,1016.17 L541.70,1012.52 L542.70,1008.90 L543.70,1005.31 L544.70,1001.75 L545.70,998.24 L546.70,994.76 L547.70,991.32 L548.70,987.94 L549.70,984.60 L550.70,981.32 L551.70,978.09 L552.70,974.93 L553.70,971.83 L554.70,968.79 L555.70,965.83 L556.70,962.93 L557.70,960.12 L558.70,957.38 L559.70,954.73 L560.70,952.16 L561.70,949.68 L562.70,947.28 L563.70,944.99 L564.70,942.78 L565.70,940.68 L566.70,938.67 L567.70,936.77 L568.70,934.98 L569.70,933.29 L570.70,931.70 L571.70,930.23 L572.70,928.88 L573.70,927.63 L574.70,926.50 L575.70,925.49 L576.70,924.60 L577.70,923.82 L578.70,923.16 L579.70,922.63 L580.70,922.21 L581.70,921.92 L582.70,921.75 L583.70,921.70 L584.70,921.77 L585.70,921.97 L586.70,922.29 L587.70,922.73 L588.70,923.29 L589.70,923.97 L590.70,924.77 L591.70,925.68 L592.70,926.72 L593.70,927.87 L594.70,929.14 L595.70,930.52 L596.70,932.01 L597.70,933.62 L598.70,935.33 L599.70,937.14 L600.70,939.07 L601.70,941.09 L602.70,943.22 L603.70,945.44 L604.70,947.76 L605.70,950.17 L606.70,952.66 L607.70,955.25 L608.70,957.92 L609.70,960.68 L610.70,963.51 L611.70,966.41 L612.70,969.39 L613.70,972.44 L614.70,975.55 L615.70,978.73 L616.70,981.97 L617.70,985.26 L618.70,988.61 L619.70,992.01 L620.70,995.45 L621.70,998.94 L622.70,1002.46 L623.70,1006.03 L624.70,1009.62 L625.70,1013.25 L626.70,1016.90 L627.70,1020.58 L628.70,1024.27 L629.70,1027.98 L630.70,1031.71 L631.70,1035.45 L632.70,1039.19 L633.70,1042.94 L634.70,1046.69 L635.70,1050.44 L636.70,1054.19 L637.70,1057.92 L638.70,1061.65 L639.70,1065.37 L640.70,1069.07 L641.70,1072.75 L642.70,1076.41 L643.70,1080.05 L644.70,1083.67 L645.70,1087.25 L646.70,1090.81 L647.70,1094.34 L648.70,1097.84 L649.70,1101.29 L650.70,1104.72 L651.70,1108.10 L652.70,1111.45 L653.70,1114.75 L654.70,1118.01 L655.70,1121.22 L656.70,1124.39 L657.70,1127.52 L658.70,1130.59 L659.70,1133.62 L660.70,1136.59 L661.70,1139.52 L662.70,1142.39 L663.70,1145.22 L664.70,1147.99 L665.70,1150.70 L666.70,1153.37 L667.70,1155.98 L668.70,1158.53 L669.70,1161.03 L670.70,1163.48 L671.70,1165.87 L672.70,1168.21 L673.70,1170.49 L674.70,1172.72 L675.70,1174.90 L676.70,1177.02 L677.70,1179.08 L678.70,1181.10 L679.70,1183.06 L680.70,1184.97 L681.70,1186.82 L682.70,1188.63 L683.70,1190.38 L684.70,1192.09 L685.70,1193.74 L686.70,1195.34 L687.70,1196.90 L688.70,1198.41 L689.70,1199.87 L690.70,1201.29 L691.70,1202.66 L692.70,1203.99 L693.70,1205.27 L694.70,1206.51 L695.70,1207.71 L696.70,1208.86 L697.70,1209.98 L698.70,1211.06 L699.70,1212.10 L700.70,1213.10 L701.70,1214.07 L702.70,1214.99 L703.70,1215.89 L704.70,1216.75 L705.70,1217.58 L706.70,1218.37 L707.70,1219.14 L708.70,1219.87 L709.70,1220.58 L710.70,1221.25 L711.70,1221.90 L712.70,1222.53 L713.70,1223.12 L714.70,1223.69 L715.70,1224.24 L716.70,1224.76 L717.70,1225.26 L718.70,1225.74 L719.70,1226.20 L720.70,1226.63 L721.70,1227.05 L722.70,1227.45 L723.70,1227.83 L724.70,1228.19 L725.70,1228.53 L726.70,1228.86 L727.70,1229.18 L728.70,1229.47 L729.70,1229.76 L730.70,1230.03 L731.70,1230.28 L732.70,1230.53 L733.70,1230.76 L734.70,1230.98 L735.70,1231.19 L736.70,1231.38 L737.70,1231.57 L738.70,1231.75 L739.70,1231.92 L740.70,1232.08 L741.70,1232.23 L742.70,1232.37 L743.70,1232.50 L744.70,1232.63 L745.70,1232.75 L746.70,1232.87 L747.70,1232.97 L748.70,1233.07 L749.70,1233.17 L750.70,1233.26 L751.70,1233.34 L752.70,1233.42 L753.70,1233.50 L754.70,1233.57 L755.70,1233.64 L756.70,1233.70 L757.70,1233.76 L758.70,1233.81 L759.70,1233.87 L760.70,1233.92 L761.70,1233.96 L762.70,1234.00 L763.70,1234.04 L764.70,1234.08 L765.70,1234.12 L766.70,1234.15 L767.70,1234.18 L768.70,1234.21 L769.70,1234.24 L770.70,1234.26 L771.70,1234.29 L772.70,1234.31 L773.70,1234.33 L774.70,1234.35 L775.70,1234.37 L776.70,1234.38 L777.70,1234.40 L778.70,1234.42 L779.70,1234.43 L780.70,1234.44 L781.70,1234.45 L782.70,1234.46 L783.70,1234.47 L784.70,1234.48 L785.70,1234.49 L786.70,1234.50 L787.70,1234.51" fill="none" stroke="#0000ff" stroke-width="3"/>
<path d="M351.20,1234.59 L353.03,1234.59 L354.85,1234.59 L356.68,1234.59 L358.50,1234.58 L360.32,1234.58 L362.15,1234.58 L363.97,1234.57 L365.80,1234.57 M378.20,1234.52 L380.03,1234.50 L381.85,1234.49 L383.68,1234.47 L385.50,1234.45 L387.32,1234.43 L389.15,1234.41 L390.97,1234.38 L392.80,1234.34 M404.21,1234.02 L406.03,1233.94 L407.86,1233.85 L409.68,1233.75 L411.50,1233.64 L413.32,1233.51 L415.14,1233.37 L416.96,1233.22 L418.78,1233.05 M429.47,1231.58 L431.27,1231.23 L433.05,1230.86 L434.83,1230.45 L436.60,1230.00 L438.36,1229.51 L440.11,1228.99 L441.84,1228.42 L443.56,1227.81 M452.99,1223.42 L454.56,1222.49 L456.10,1221.52 L457.62,1220.50 L459.10,1219.44 L460.55,1218.33 L461.98,1217.19 L463.37,1216.01 L464.72,1214.79 M469.84,1209.60 L471.05,1208.24 L472.23,1206.84 L473.38,1205.42 L474.50,1203.99 L475.60,1202.53 L476.67,1201.05 L477.72,1199.56 L478.74,1198.05 M483.59,1190.23 L484.49,1188.64 L485.38,1187.05 L486.25,1185.44 L487.10,1183.83 L487.94,1182.21 L488.76,1180.58 L489.57,1178.94 L490.36,1177.30 M494.16,1168.99 L494.89,1167.31 L495.60,1165.63 L496.30,1163.95 L497.00,1162.26 L497.69,1160.57 L498.36,1158.88 L499.03,1157.18 L499.69,1155.48 M503.72,1144.59 L504.33,1142.87 L504.93,1141.15 L505.53,1139.43 L506.12,1137.70 L506.71,1135.97 L507.29,1134.24 L507.87,1132.51 L508.44,1130.78 M511.55,1121.08 L512.09,1119.33 L512.63,1117.59 L513.17,1115.85 L513.70,1114.10 L514.23,1112.35 L514.75,1110.61 L515.28,1108.86 L515.79,1107.11 M518.96,1096.22 L519.46,1094.47 L519.96,1092.71 L520.46,1090.96 L520.95,1089.20 L521.45,1087.44 L521.94,1085.69 L522.43,1083.93 L522.92,1082.17 M525.85,1071.45 L526.33,1069.69 L526.81,1067.92 L527.29,1066.16 L527.76,1064.40 L528.23,1062.64 L528.71,1060.88 L529.18,1059.11 L529.65,1057.35 M532.86,1045.35 L533.33,1043.59 L533.80,1041.83 L534.27,1040.06 L534.74,1038.30 L535.21,1036.54 L535.68,1034.77 L536.15,1033.01 L536.62,1031.25 M539.51,1020.54 L539.99,1018.78 L540.47,1017.02 L540.95,1015.26 L541.43,1013.50 L541.91,1011.74 L542.40,1009.98 L542.89,1008.22 L543.38,1006.46 M546.45,995.61 L546.96,993.85 L547.47,992.10 L547.99,990.35 L548.50,988.60 L549.02,986.85 L549.55,985.10 L550.08,983.36 L550.61,981.61 M554.46,969.51 L555.04,967.78 L555.62,966.05 L556.22,964.32 L556.82,962.60 L557.43,960.88 L558.05,959.16 L558.67,957.45 L559.31,955.74 M562.59,947.54 L563.32,945.86 L564.06,944.19 L564.82,942.53 L565.60,940.88 L566.41,939.25 L567.24,937.63 L568.11,936.02 L569.01,934.43 M579.62,922.66 L581.33,922.02 L583.12,921.71 L584.94,921.81 L586.70,922.29 L588.34,923.07 L589.86,924.09 L591.26,925.26 L592.55,926.55 M597.60,933.46 L598.53,935.03 L599.42,936.62 L600.27,938.24 L601.10,939.86 L601.90,941.51 L602.67,943.16 L603.43,944.82 L604.16,946.49 M608.11,956.34 L608.75,958.05 L609.37,959.76 L609.99,961.48 L610.59,963.20 L611.19,964.92 L611.78,966.65 L612.36,968.38 L612.94,970.11 M616.77,982.21 L617.30,983.95 L617.83,985.70 L618.36,987.45 L618.87,989.20 L619.39,990.95 L619.90,992.70 L620.41,994.45 L620.92,996.21 M624.05,1007.26 L624.53,1009.02 L625.02,1010.78 L625.51,1012.54 L625.99,1014.30 L626.47,1016.06 L626.95,1017.82 L627.43,1019.58 L627.91,1021.34 M630.60,1031.35 L631.07,1033.11 L631.55,1034.87 L632.02,1036.64 L632.49,1038.40 L632.96,1040.16 L633.43,1041.93 L633.90,1043.69 L634.37,1045.45 M637.31,1056.45 L637.78,1058.21 L638.25,1059.98 L638.72,1061.74 L639.20,1063.50 L639.67,1065.26 L640.15,1067.02 L640.62,1068.79 L641.10,1070.55 M644.09,1081.47 L644.58,1083.23 L645.07,1084.98 L645.56,1086.74 L646.05,1088.50 L646.54,1090.26 L647.04,1092.01 L647.54,1093.77 L648.04,1095.52 M650.96,1105.60 L651.48,1107.35 L652.00,1109.10 L652.52,1110.85 L653.05,1112.60 L653.58,1114.35 L654.11,1116.09 L654.65,1117.84 L655.19,1119.58 M658.76,1130.78 L659.33,1132.51 L659.91,1134.24 L660.49,1135.97 L661.08,1137.70 L661.67,1139.43 L662.27,1141.15 L662.87,1142.87 L663.48,1144.59 M667.32,1154.98 L667.98,1156.69 L668.64,1158.38 L669.32,1160.08 L670.00,1161.77 L670.69,1163.46 L671.39,1165.15 L672.11,1166.83 L672.83,1168.50 M677.21,1178.07 L678.01,1179.71 L678.83,1181.35 L679.66,1182.97 L680.50,1184.59 L681.36,1186.20 L682.24,1187.80 L683.13,1189.39 L684.04,1190.97 M689.19,1199.13 L690.23,1200.63 L691.29,1202.11 L692.38,1203.57 L693.50,1205.02 L694.64,1206.44 L695.81,1207.84 L697.01,1209.22 L698.24,1210.57 M704.22,1216.34 L705.61,1217.51 L707.05,1218.64 L708.51,1219.73 L710.00,1220.78 L711.52,1221.79 L713.07,1222.75 L714.65,1223.67 L716.26,1224.53 M723.54,1227.77 L725.26,1228.39 L726.99,1228.96 L728.74,1229.49 L730.50,1229.97 L732.27,1230.42 L734.05,1230.83 L735.83,1231.21 L737.62,1231.56 M749.72,1233.17 L751.54,1233.33 L753.36,1233.47 L755.18,1233.60 L757.00,1233.72 L758.82,1233.82 L760.64,1233.91 L762.47,1233.99 L764.29,1234.07 M763.70,1234.04 L765.53,1234.11 L767.35,1234.17 L769.18,1234.22 L771.00,1234.27 L772.82,1234.31 L774.65,1234.35 L776.47,1234.38 L778.30,1234.41 M790.70,1234.53 L792.53,1234.54 L794.35,1234.55 L796.18,1234.55 L798.00,1234.56 L799.82,1234.57 L801.65,1234.57 L803.47,1234.58 L805.30,1234.58" fill="none" stroke="#000" stroke-width="13.6" stroke-linecap="butt" stroke-linejoin="miter"/>
<line x1="578" y1="957.2" x2="592" y2="957.2" stroke="#000" stroke-width="1.6"/>
<path d="M558.9,957.2 L581.1,951.7 L581.1,962.8 Z M608.9,957.2 L589.4,951.7 L589.4,962.8 Z" fill="#000"/>
<text x="563.84" y="1043.30" font-size="41">R</text>
<text x="592.57" y="1052.50" font-size="26.5">G</text>
<line x1="178.5" y1="662" x2="178.5" y2="1248.5" stroke="#000" stroke-width="2.8"/>
<line x1="177.1" y1="1247" x2="956.5" y2="1247" stroke="#000" stroke-width="3"/>
<line x1="153.5" y1="1235.20" x2="180.5" y2="1235.20" stroke="#000" stroke-width="3"/>
<text x="141.70" y="1249.00" font-size="41" text-anchor="end">0.0</text>
<line x1="153.5" y1="1075.87" x2="180.5" y2="1075.87" stroke="#000" stroke-width="3"/>
<text x="141.70" y="1089.66" font-size="41" text-anchor="end">0.5</text>
<line x1="153.5" y1="916.53" x2="180.5" y2="916.53" stroke="#000" stroke-width="3"/>
<text x="141.70" y="930.33" font-size="41" text-anchor="end"> .0</text>
<path transform="translate(84.70,930.33) scale(41,-41)" d="M0.269,0 L0.359,0 L0.359,0.703 L0.286,0.703 C0.276,0.640 0.262,0.600 0.215,0.575 C0.180,0.560 0.140,0.556 0.101,0.556 L0.101,0.489 L0.269,0.489 Z"/>
<line x1="153.5" y1="757.20" x2="180.5" y2="757.20" stroke="#000" stroke-width="3"/>
<text x="141.70" y="771.00" font-size="41" text-anchor="end"> .5</text>
<path transform="translate(84.70,771.00) scale(41,-41)" d="M0.269,0 L0.359,0 L0.359,0.703 L0.286,0.703 C0.276,0.640 0.262,0.600 0.215,0.575 C0.180,0.560 0.140,0.556 0.101,0.556 L0.101,0.489 L0.269,0.489 Z"/>
<line x1="190.25" y1="1247" x2="190.25" y2="1260.8" stroke="#000" stroke-width="3"/>
<line x1="299.50" y1="1247" x2="299.50" y2="1271.5" stroke="#000" stroke-width="3"/>
<text x="299.50" y="1322.00" font-size="41" text-anchor="middle">900</text>
<line x1="408.75" y1="1247" x2="408.75" y2="1260.8" stroke="#000" stroke-width="3"/>
<line x1="518.00" y1="1247" x2="518.00" y2="1271.5" stroke="#000" stroke-width="3"/>
<text x="518.00" y="1322.00" font-size="41" text-anchor="middle"> 000</text>
<path transform="translate(472.40,1322.00) scale(41,-41)" d="M0.269,0 L0.359,0 L0.359,0.703 L0.286,0.703 C0.276,0.640 0.262,0.600 0.215,0.575 C0.180,0.560 0.140,0.556 0.101,0.556 L0.101,0.489 L0.269,0.489 Z"/>
<line x1="627.25" y1="1247" x2="627.25" y2="1260.8" stroke="#000" stroke-width="3"/>
<line x1="736.50" y1="1247" x2="736.50" y2="1271.5" stroke="#000" stroke-width="3"/>
<text x="736.50" y="1322.00" font-size="41" text-anchor="middle">  00</text>
<path transform="translate(690.90,1322.00) scale(41,-41)" d="M0.269,0 L0.359,0 L0.359,0.703 L0.286,0.703 C0.276,0.640 0.262,0.600 0.215,0.575 C0.180,0.560 0.140,0.556 0.101,0.556 L0.101,0.489 L0.269,0.489 Z"/>
<path transform="translate(713.70,1322.00) scale(41,-41)" d="M0.269,0 L0.359,0 L0.359,0.703 L0.286,0.703 C0.276,0.640 0.262,0.600 0.215,0.575 C0.180,0.560 0.140,0.556 0.101,0.556 L0.101,0.489 L0.269,0.489 Z"/>
<line x1="845.75" y1="1247" x2="845.75" y2="1260.8" stroke="#000" stroke-width="3"/>
<line x1="955.00" y1="1247" x2="955.00" y2="1271.5" stroke="#000" stroke-width="3"/>
<text x="955.00" y="1322.00" font-size="41" text-anchor="middle"> 200</text>
<path transform="translate(909.40,1322.00) scale(41,-41)" d="M0.269,0 L0.359,0 L0.359,0.703 L0.286,0.703 C0.276,0.640 0.262,0.600 0.215,0.575 C0.180,0.560 0.140,0.556 0.101,0.556 L0.101,0.489 L0.269,0.489 Z"/>
<text x="334.60" y="1375.60" font-size="40.5">distance from interface (Å)</text>
<text x="34.10" y="692.00" font-size="48" font-weight="bold">b</text>
<g transform="translate(51.5,1074.1) rotate(-90)"><text x="0" y="0" font-size="40.6">SLD ( 0<tspan font-size="27" dy="-27.25">-6</tspan><tspan dy="27.25" dx="1.7"> Å</tspan><tspan font-size="27" dy="-27.25">-2</tspan><tspan dy="27.25">)</tspan></text><path transform="translate(103.78,0.00) scale(40.6,-40.6)" d="M0.269,0 L0.359,0 L0.359,0.703 L0.286,0.703 C0.276,0.640 0.262,0.600 0.215,0.575 C0.180,0.560 0.140,0.556 0.101,0.556 L0.101,0.489 L0.269,0.489 Z"/></g>
<line x1="337.6" y1="767" x2="400.6" y2="767" stroke="#ff0000" stroke-width="6.5"/>
<line x1="337.6" y1="804.5" x2="400.6" y2="804.5" stroke="#000" stroke-width="13" stroke-dasharray="13.4 13.4"/>
<line x1="337.6" y1="842.3" x2="400.6" y2="842.3" stroke="#0000ff" stroke-width="3"/>
<text x="414.20" y="777.40" font-size="33.75">overall SLD density</text>
<text x="414.08" y="815.20" font-size="33.75">SLD of a single PSS layer</text>
<text x="413.91" y="852.60" font-size="33.75">Gaussian Fit</text>
</svg></body></html>
